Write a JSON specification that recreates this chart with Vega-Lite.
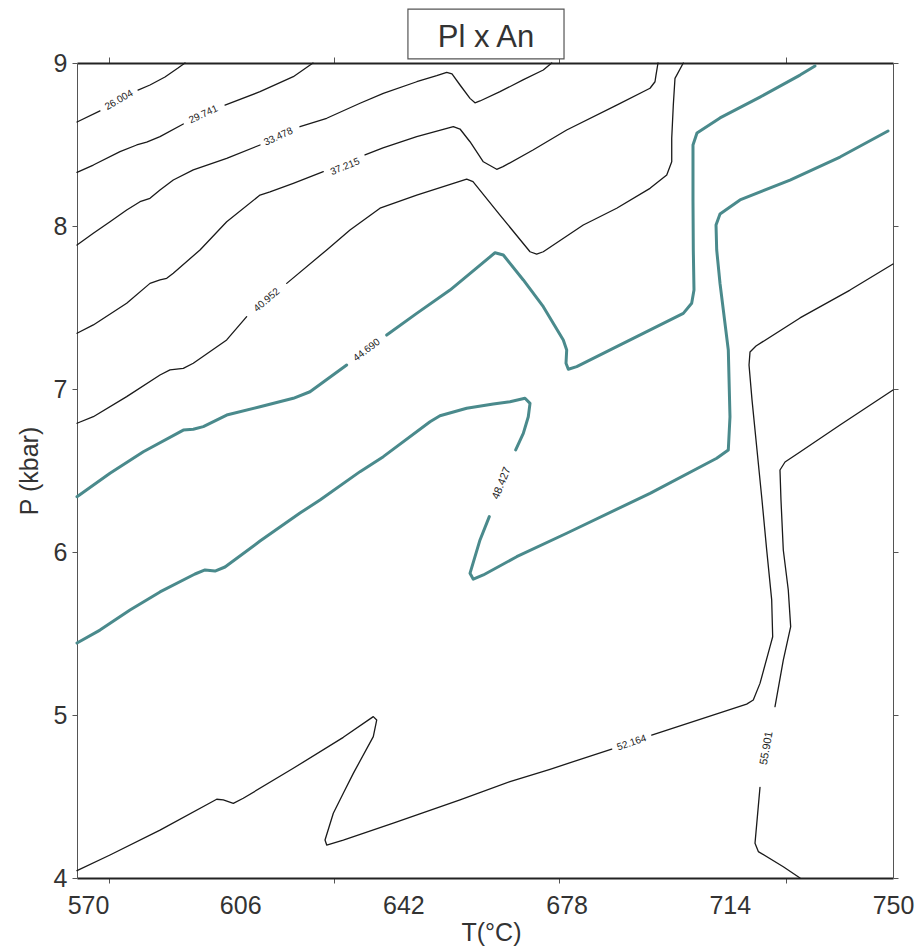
{
  "$schema": "https://vega.github.io/schema/vega-lite/v6.json",
  "width": 816,
  "height": 815,
  "autosize": "none",
  "padding": {"left": 77, "top": 63, "right": 29, "bottom": 70},
  "background": "white",
  "config": {
    "view": {"stroke": null},
    "font": "Liberation Sans",
    "axis": {"grid": false, "labelFont": "Liberation Sans", "titleFont": "Liberation Sans"}
  },
  "datasets": {
    "contours": [
      {"level": "26.004", "seg": "26.004a", "T": 570, "P": 8.638},
      {"level": "26.004", "seg": "26.004a", "T": 575.07, "P": 8.706},
      {"level": "26.004", "seg": "26.004b", "T": 583.46, "P": 8.834},
      {"level": "26.004", "seg": "26.004b", "T": 586.1, "P": 8.865},
      {"level": "26.004", "seg": "26.004b", "T": 589.41, "P": 8.914},
      {"level": "26.004", "seg": "26.004b", "T": 592.28, "P": 8.969},
      {"level": "26.004", "seg": "26.004b", "T": 593.82, "P": 9.0},

      {"level": "29.741", "seg": "29.741a", "T": 570, "P": 8.329},
      {"level": "29.741", "seg": "29.741a", "T": 573.6, "P": 8.374},
      {"level": "29.741", "seg": "29.741a", "T": 579.49, "P": 8.456},
      {"level": "29.741", "seg": "29.741a", "T": 583.17, "P": 8.497},
      {"level": "29.741", "seg": "29.741a", "T": 585.37, "P": 8.514},
      {"level": "29.741", "seg": "29.741a", "T": 588.31, "P": 8.548},
      {"level": "29.741", "seg": "29.741a", "T": 593.45, "P": 8.626},
      {"level": "29.741", "seg": "29.741b", "T": 602.65, "P": 8.742},
      {"level": "29.741", "seg": "29.741b", "T": 610.37, "P": 8.824},
      {"level": "29.741", "seg": "29.741b", "T": 617.71, "P": 8.916},
      {"level": "29.741", "seg": "29.741b", "T": 622.06, "P": 9.0},

      {"level": "33.478", "seg": "33.478a", "T": 570, "P": 7.883},
      {"level": "33.478", "seg": "33.478a", "T": 573.6, "P": 7.955},
      {"level": "33.478", "seg": "33.478a", "T": 577.28, "P": 8.026},
      {"level": "33.478", "seg": "33.478a", "T": 580.96, "P": 8.098},
      {"level": "33.478", "seg": "33.478a", "T": 583.9, "P": 8.149},
      {"level": "33.478", "seg": "33.478a", "T": 586.1, "P": 8.17},
      {"level": "33.478", "seg": "33.478a", "T": 588.31, "P": 8.221},
      {"level": "33.478", "seg": "33.478a", "T": 591.24, "P": 8.282},
      {"level": "33.478", "seg": "33.478a", "T": 595.65, "P": 8.344},
      {"level": "33.478", "seg": "33.478a", "T": 603.02, "P": 8.415},
      {"level": "33.478", "seg": "33.478a", "T": 610.37, "P": 8.497},
      {"level": "33.478", "seg": "33.478b", "T": 619.19, "P": 8.609},
      {"level": "33.478", "seg": "33.478b", "T": 625.08, "P": 8.661},
      {"level": "33.478", "seg": "33.478b", "T": 632.43, "P": 8.753},
      {"level": "33.478", "seg": "33.478b", "T": 637.57, "P": 8.814},
      {"level": "33.478", "seg": "33.478b", "T": 644.94, "P": 8.885},
      {"level": "33.478", "seg": "33.478b", "T": 649.35, "P": 8.922},
      {"level": "33.478", "seg": "33.478b", "T": 651.56, "P": 8.943},
      {"level": "33.478", "seg": "33.478b", "T": 652.72, "P": 8.933},
      {"level": "33.478", "seg": "33.478b", "T": 654.49, "P": 8.865},
      {"level": "33.478", "seg": "33.478b", "T": 656.69, "P": 8.783},
      {"level": "33.478", "seg": "33.478b", "T": 657.79, "P": 8.756},
      {"level": "33.478", "seg": "33.478b", "T": 658.9, "P": 8.767},
      {"level": "33.478", "seg": "33.478b", "T": 663.31, "P": 8.824},
      {"level": "33.478", "seg": "33.478b", "T": 668.38, "P": 8.896},
      {"level": "33.478", "seg": "33.478b", "T": 672.86, "P": 8.957},
      {"level": "33.478", "seg": "33.478b", "T": 674.71, "P": 9.0},

      {"level": "37.215", "seg": "37.215a", "T": 570, "P": 7.342},
      {"level": "37.215", "seg": "37.215a", "T": 573.6, "P": 7.393},
      {"level": "37.215", "seg": "37.215a", "T": 580.96, "P": 7.526},
      {"level": "37.215", "seg": "37.215a", "T": 586.1, "P": 7.648},
      {"level": "37.215", "seg": "37.215a", "T": 588.31, "P": 7.669},
      {"level": "37.215", "seg": "37.215a", "T": 589.79, "P": 7.679},
      {"level": "37.215", "seg": "37.215a", "T": 591.24, "P": 7.71},
      {"level": "37.215", "seg": "37.215a", "T": 597.13, "P": 7.853},
      {"level": "37.215", "seg": "37.215a", "T": 603.02, "P": 8.026},
      {"level": "37.215", "seg": "37.215a", "T": 610.37, "P": 8.19},
      {"level": "37.215", "seg": "37.215a", "T": 612.57, "P": 8.21},
      {"level": "37.215", "seg": "37.215a", "T": 617.71, "P": 8.262},
      {"level": "37.215", "seg": "37.215a", "T": 624.33, "P": 8.333},
      {"level": "37.215", "seg": "37.215b", "T": 633.53, "P": 8.436},
      {"level": "37.215", "seg": "37.215b", "T": 637.5, "P": 8.479},
      {"level": "37.215", "seg": "37.215b", "T": 644.94, "P": 8.548},
      {"level": "37.215", "seg": "37.215b", "T": 653.01, "P": 8.609},
      {"level": "37.215", "seg": "37.215b", "T": 654.49, "P": 8.595},
      {"level": "37.215", "seg": "37.215b", "T": 656.69, "P": 8.517},
      {"level": "37.215", "seg": "37.215b", "T": 659.63, "P": 8.394},
      {"level": "37.215", "seg": "37.215b", "T": 662.58, "P": 8.348},
      {"level": "37.215", "seg": "37.215b", "T": 663.97, "P": 8.364},
      {"level": "37.215", "seg": "37.215b", "T": 670.59, "P": 8.466},
      {"level": "37.215", "seg": "37.215b", "T": 678.02, "P": 8.589},
      {"level": "37.215", "seg": "37.215b", "T": 689.05, "P": 8.742},
      {"level": "37.215", "seg": "37.215b", "T": 696.4, "P": 8.845},
      {"level": "37.215", "seg": "37.215b", "T": 697.5, "P": 8.885},
      {"level": "37.215", "seg": "37.215b", "T": 697.72, "P": 8.926},
      {"level": "37.215", "seg": "37.215b", "T": 698.16, "P": 9.0},

      {"level": "40.952", "seg": "40.952a", "T": 570, "P": 6.79},
      {"level": "40.952", "seg": "40.952a", "T": 573.6, "P": 6.83},
      {"level": "40.952", "seg": "40.952a", "T": 580.96, "P": 6.953},
      {"level": "40.952", "seg": "40.952a", "T": 588.31, "P": 7.086},
      {"level": "40.952", "seg": "40.952a", "T": 590.51, "P": 7.117},
      {"level": "40.952", "seg": "40.952a", "T": 593.45, "P": 7.127},
      {"level": "40.952", "seg": "40.952a", "T": 595.65, "P": 7.158},
      {"level": "40.952", "seg": "40.952a", "T": 603.02, "P": 7.301},
      {"level": "40.952", "seg": "40.952a", "T": 607.43, "P": 7.444},
      {"level": "40.952", "seg": "40.952b", "T": 616.26, "P": 7.648},
      {"level": "40.952", "seg": "40.952b", "T": 625.08, "P": 7.853},
      {"level": "40.952", "seg": "40.952b", "T": 630.22, "P": 7.975},
      {"level": "40.952", "seg": "40.952b", "T": 636.84, "P": 8.109},
      {"level": "40.952", "seg": "40.952b", "T": 644.94, "P": 8.19},
      {"level": "40.952", "seg": "40.952b", "T": 655.96, "P": 8.288},
      {"level": "40.952", "seg": "40.952b", "T": 657.35, "P": 8.272},
      {"level": "40.952", "seg": "40.952b", "T": 663.31, "P": 8.067},
      {"level": "40.952", "seg": "40.952b", "T": 669.93, "P": 7.842},
      {"level": "40.952", "seg": "40.952b", "T": 671.4, "P": 7.828},
      {"level": "40.952", "seg": "40.952b", "T": 672.86, "P": 7.842},
      {"level": "40.952", "seg": "40.952b", "T": 681.68, "P": 8.006},
      {"level": "40.952", "seg": "40.952b", "T": 683.89, "P": 8.037},
      {"level": "40.952", "seg": "40.952b", "T": 689.05, "P": 8.109},
      {"level": "40.952", "seg": "40.952b", "T": 696.4, "P": 8.231},
      {"level": "40.952", "seg": "40.952b", "T": 700.09, "P": 8.313},
      {"level": "40.952", "seg": "40.952b", "T": 701.19, "P": 8.394},
      {"level": "40.952", "seg": "40.952b", "T": 701.19, "P": 8.538},
      {"level": "40.952", "seg": "40.952b", "T": 701.54, "P": 8.742},
      {"level": "40.952", "seg": "40.952b", "T": 701.91, "P": 8.906},
      {"level": "40.952", "seg": "40.952b", "T": 703.74, "P": 9.0},

      {"level": "44.690", "seg": "44.690a", "T": 570, "P": 6.339},
      {"level": "44.690", "seg": "44.690a", "T": 577.28, "P": 6.483},
      {"level": "44.690", "seg": "44.690a", "T": 584.63, "P": 6.615},
      {"level": "44.690", "seg": "44.690a", "T": 593.45, "P": 6.748},
      {"level": "44.690", "seg": "44.690a", "T": 595.65, "P": 6.753},
      {"level": "44.690", "seg": "44.690a", "T": 597.86, "P": 6.769},
      {"level": "44.690", "seg": "44.690a", "T": 603.02, "P": 6.84},
      {"level": "44.690", "seg": "44.690a", "T": 610.37, "P": 6.891},
      {"level": "44.690", "seg": "44.690a", "T": 617.71, "P": 6.943},
      {"level": "44.690", "seg": "44.690a", "T": 621.4, "P": 6.983},
      {"level": "44.690", "seg": "44.690a", "T": 629.49, "P": 7.147},
      {"level": "44.690", "seg": "44.690b", "T": 638.32, "P": 7.331},
      {"level": "44.690", "seg": "44.690b", "T": 644.94, "P": 7.464},
      {"level": "44.690", "seg": "44.690b", "T": 652.28, "P": 7.607},
      {"level": "44.690", "seg": "44.690b", "T": 662.21, "P": 7.836},
      {"level": "44.690", "seg": "44.690b", "T": 664.04, "P": 7.822},
      {"level": "44.690", "seg": "44.690b", "T": 668.45, "P": 7.669},
      {"level": "44.690", "seg": "44.690b", "T": 672.86, "P": 7.505},
      {"level": "44.690", "seg": "44.690b", "T": 677.27, "P": 7.301},
      {"level": "44.690", "seg": "44.690b", "T": 678.02, "P": 7.239},
      {"level": "44.690", "seg": "44.690b", "T": 677.87, "P": 7.158},
      {"level": "44.690", "seg": "44.690b", "T": 678.38, "P": 7.121},
      {"level": "44.690", "seg": "44.690b", "T": 680.23, "P": 7.137},
      {"level": "44.690", "seg": "44.690b", "T": 689.05, "P": 7.26},
      {"level": "44.690", "seg": "44.690b", "T": 703.74, "P": 7.464},
      {"level": "44.690", "seg": "44.690b", "T": 705.59, "P": 7.526},
      {"level": "44.690", "seg": "44.690b", "T": 706.1, "P": 7.607},
      {"level": "44.690", "seg": "44.690b", "T": 705.95, "P": 7.853},
      {"level": "44.690", "seg": "44.690b", "T": 705.88, "P": 8.16},
      {"level": "44.690", "seg": "44.690b", "T": 705.88, "P": 8.497},
      {"level": "44.690", "seg": "44.690b", "T": 706.76, "P": 8.571},
      {"level": "44.690", "seg": "44.690b", "T": 711.84, "P": 8.663},
      {"level": "44.690", "seg": "44.690b", "T": 720.66, "P": 8.791},
      {"level": "44.690", "seg": "44.690b", "T": 729.49, "P": 8.926},
      {"level": "44.690", "seg": "44.690b", "T": 732.79, "P": 8.982},

      {"level": "48.427", "seg": "48.427a", "T": 570, "P": 5.442},
      {"level": "48.427", "seg": "48.427a", "T": 575.07, "P": 5.521},
      {"level": "48.427", "seg": "48.427a", "T": 581.69, "P": 5.644},
      {"level": "48.427", "seg": "48.427a", "T": 588.31, "P": 5.755},
      {"level": "48.427", "seg": "48.427a", "T": 596.03, "P": 5.865},
      {"level": "48.427", "seg": "48.427a", "T": 598.24, "P": 5.89},
      {"level": "48.427", "seg": "48.427a", "T": 600.44, "P": 5.883},
      {"level": "48.427", "seg": "48.427a", "T": 602.65, "P": 5.908},
      {"level": "48.427", "seg": "48.427a", "T": 610.37, "P": 6.067},
      {"level": "48.427", "seg": "48.427a", "T": 619.19, "P": 6.239},
      {"level": "48.427", "seg": "48.427a", "T": 623.6, "P": 6.319},
      {"level": "48.427", "seg": "48.427a", "T": 632.43, "P": 6.493},
      {"level": "48.427", "seg": "48.427a", "T": 637.57, "P": 6.585},
      {"level": "48.427", "seg": "48.427a", "T": 647.87, "P": 6.799},
      {"level": "48.427", "seg": "48.427a", "T": 650.07, "P": 6.836},
      {"level": "48.427", "seg": "48.427a", "T": 655.96, "P": 6.882},
      {"level": "48.427", "seg": "48.427a", "T": 661.83, "P": 6.908},
      {"level": "48.427", "seg": "48.427a", "T": 665.51, "P": 6.922},
      {"level": "48.427", "seg": "48.427a", "T": 668.82, "P": 6.943},
      {"level": "48.427", "seg": "48.427a", "T": 669.93, "P": 6.912},
      {"level": "48.427", "seg": "48.427a", "T": 669.55, "P": 6.83},
      {"level": "48.427", "seg": "48.427a", "T": 668.45, "P": 6.728},
      {"level": "48.427", "seg": "48.427a", "T": 666.77, "P": 6.626},
      {"level": "48.427", "seg": "48.427b", "T": 660.95, "P": 6.217},
      {"level": "48.427", "seg": "48.427b", "T": 658.9, "P": 6.074},
      {"level": "48.427", "seg": "48.427b", "T": 656.69, "P": 5.869},
      {"level": "48.427", "seg": "48.427b", "T": 657.42, "P": 5.833},
      {"level": "48.427", "seg": "48.427b", "T": 659.63, "P": 5.859},
      {"level": "48.427", "seg": "48.427b", "T": 666.99, "P": 5.971},
      {"level": "48.427", "seg": "48.427b", "T": 678.02, "P": 6.115},
      {"level": "48.427", "seg": "48.427b", "T": 696.4, "P": 6.36},
      {"level": "48.427", "seg": "48.427b", "T": 711.11, "P": 6.575},
      {"level": "48.427", "seg": "48.427b", "T": 713.67, "P": 6.626},
      {"level": "48.427", "seg": "48.427b", "T": 714.04, "P": 6.83},
      {"level": "48.427", "seg": "48.427b", "T": 713.67, "P": 7.239},
      {"level": "48.427", "seg": "48.427b", "T": 711.84, "P": 7.648},
      {"level": "48.427", "seg": "48.427b", "T": 711.11, "P": 7.853},
      {"level": "48.427", "seg": "48.427b", "T": 710.96, "P": 8.006},
      {"level": "48.427", "seg": "48.427b", "T": 711.84, "P": 8.074},
      {"level": "48.427", "seg": "48.427b", "T": 716.25, "P": 8.16},
      {"level": "48.427", "seg": "48.427b", "T": 727.28, "P": 8.282},
      {"level": "48.427", "seg": "48.427b", "T": 738.31, "P": 8.423},
      {"level": "48.427", "seg": "48.427b", "T": 748.9, "P": 8.583},

      {"level": "52.164", "seg": "52.164a", "T": 570, "P": 4.045},
      {"level": "52.164", "seg": "52.164a", "T": 577.28, "P": 4.141},
      {"level": "52.164", "seg": "52.164a", "T": 588.31, "P": 4.294},
      {"level": "52.164", "seg": "52.164a", "T": 600.82, "P": 4.483},
      {"level": "52.164", "seg": "52.164a", "T": 602.27, "P": 4.479},
      {"level": "52.164", "seg": "52.164a", "T": 604.48, "P": 4.458},
      {"level": "52.164", "seg": "52.164a", "T": 606.68, "P": 4.489},
      {"level": "52.164", "seg": "52.164a", "T": 617.71, "P": 4.673},
      {"level": "52.164", "seg": "52.164a", "T": 628.74, "P": 4.863},
      {"level": "52.164", "seg": "52.164a", "T": 635.36, "P": 4.99},
      {"level": "52.164", "seg": "52.164a", "T": 636.11, "P": 4.969},
      {"level": "52.164", "seg": "52.164a", "T": 635.36, "P": 4.867},
      {"level": "52.164", "seg": "52.164a", "T": 630.95, "P": 4.642},
      {"level": "52.164", "seg": "52.164a", "T": 628.74, "P": 4.52},
      {"level": "52.164", "seg": "52.164a", "T": 626.54, "P": 4.397},
      {"level": "52.164", "seg": "52.164a", "T": 624.71, "P": 4.233},
      {"level": "52.164", "seg": "52.164a", "T": 625.08, "P": 4.202},
      {"level": "52.164", "seg": "52.164a", "T": 628.74, "P": 4.233},
      {"level": "52.164", "seg": "52.164a", "T": 639.77, "P": 4.336},
      {"level": "52.164", "seg": "52.164a", "T": 654.49, "P": 4.479},
      {"level": "52.164", "seg": "52.164a", "T": 665.51, "P": 4.591},
      {"level": "52.164", "seg": "52.164a", "T": 674.34, "P": 4.667},
      {"level": "52.164", "seg": "52.164a", "T": 687.95, "P": 4.791},
      {"level": "52.164", "seg": "52.164b", "T": 696.77, "P": 4.877},
      {"level": "52.164", "seg": "52.164b", "T": 717.72, "P": 5.067},
      {"level": "52.164", "seg": "52.164b", "T": 719.18, "P": 5.092},
      {"level": "52.164", "seg": "52.164b", "T": 720.66, "P": 5.194},
      {"level": "52.164", "seg": "52.164b", "T": 722.87, "P": 5.419},
      {"level": "52.164", "seg": "52.164b", "T": 723.46, "P": 5.48},
      {"level": "52.164", "seg": "52.164b", "T": 723.24, "P": 5.706},
      {"level": "52.164", "seg": "52.164b", "T": 722.14, "P": 6.012},
      {"level": "52.164", "seg": "52.164b", "T": 721.1, "P": 6.319},
      {"level": "52.164", "seg": "52.164b", "T": 720.0, "P": 6.626},
      {"level": "52.164", "seg": "52.164b", "T": 718.9, "P": 6.933},
      {"level": "52.164", "seg": "52.164b", "T": 718.24, "P": 7.147},
      {"level": "52.164", "seg": "52.164b", "T": 718.46, "P": 7.227},
      {"level": "52.164", "seg": "52.164b", "T": 719.78, "P": 7.264},
      {"level": "52.164", "seg": "52.164b", "T": 729.49, "P": 7.436},
      {"level": "52.164", "seg": "52.164b", "T": 740.52, "P": 7.607},
      {"level": "52.164", "seg": "52.164b", "T": 750, "P": 7.767},

      {"level": "55.901", "seg": "55.901a", "T": 750, "P": 6.994},
      {"level": "55.901", "seg": "55.901a", "T": 738.31, "P": 6.779},
      {"level": "55.901", "seg": "55.901a", "T": 729.49, "P": 6.613},
      {"level": "55.901", "seg": "55.901a", "T": 726.18, "P": 6.552},
      {"level": "55.901", "seg": "55.901a", "T": 725.07, "P": 6.503},
      {"level": "55.901", "seg": "55.901a", "T": 725.29, "P": 6.319},
      {"level": "55.901", "seg": "55.901a", "T": 725.8, "P": 6.012},
      {"level": "55.901", "seg": "55.901a", "T": 726.9, "P": 5.767},
      {"level": "55.901", "seg": "55.901a", "T": 727.43, "P": 5.542},
      {"level": "55.901", "seg": "55.901a", "T": 725.8, "P": 5.337},
      {"level": "55.901", "seg": "55.901a", "T": 723.97, "P": 5.051},
      {"level": "55.901", "seg": "55.901b", "T": 720.66, "P": 4.556},
      {"level": "55.901", "seg": "55.901b", "T": 719.56, "P": 4.213},
      {"level": "55.901", "seg": "55.901b", "T": 720.29, "P": 4.162},
      {"level": "55.901", "seg": "55.901b", "T": 725.8, "P": 4.069},
      {"level": "55.901", "seg": "55.901b", "T": 729.49, "P": 4.0}
    ],
    "labels": [
      {"level": "26.004", "T": 579.26, "P": 8.773},
      {"level": "29.741", "T": 597.86, "P": 8.685},
      {"level": "33.478", "T": 614.41, "P": 8.548},
      {"level": "37.215", "T": 629.12, "P": 8.364},
      {"level": "40.952", "T": 611.84, "P": 7.546},
      {"level": "44.690", "T": 633.9, "P": 7.239},
      {"level": "48.427", "T": 663.68, "P": 6.421},
      {"level": "52.164", "T": 692.36, "P": 4.83},
      {"level": "55.901", "T": 722.14, "P": 4.796}
    ]
  },
  "resolve": {"axis": {"x": "independent", "y": "independent"}},
  "layer": [
    {
      "data": {"name": "contours"},
      "transform": [{"filter": "datum.level !== '44.690' && datum.level !== '48.427'"}],
      "mark": {"type": "line", "color": "#1a1a1a", "strokeWidth": 1.3, "strokeCap": "round", "strokeJoin": "round"},
      "encoding": {
        "x": {
          "field": "T", "type": "quantitative",
          "scale": {"domain": [570, 750], "nice": false, "zero": false},
          "axis": {
            "orient": "bottom",
            "title": "T(°C)",
            "titleFontSize": 25, "titleFontWeight": "normal", "titleColor": "#333",
            "titleX": 414, "titleY": 54, "titleBaseline": "middle",
            "values": [570, 577.06, 606, 626.76, 642, 676.4, 678, 714, 726.4, 750],
            "labelExpr": "indexof([570, 606, 642, 678, 714, 750], datum.value) >= 0 ? format(datum.value, 'd') : ''",
            "labelFlush": false, "labelOverlap": false,
            "labelFontSize": 25, "labelColor": "#333", "labelPadding": 10,
            "labelOffset": {"condition": {"test": "datum.value === 570", "value": 11}, "value": 0},
            "tickSize": 5, "tickColor": "#555", "tickWidth": 1,
            "tickOpacity": {"condition": {"test": "indexof([570, 606, 642, 678, 714, 750], datum.value) >= 0", "value": 0}, "value": 1},
            "domainColor": "#222", "domainWidth": 2
          }
        },
        "y": {
          "field": "P", "type": "quantitative",
          "scale": {"domain": [4, 9], "nice": false, "zero": false},
          "axis": {
            "orient": "left",
            "title": "P (kbar)",
            "titleFontSize": 25, "titleFontWeight": "normal", "titleColor": "#333",
            "titleX": -48, "titleY": 407.5, "titleAngle": -90, "titleBaseline": "middle", "titleAlign": "center",
            "values": [4, 5, 6, 7, 8, 9],
            "labelFontSize": 25, "labelColor": "#333", "labelPadding": 5,
            "tickSize": 5, "tickColor": "#555",
            "domainColor": "#555", "domainWidth": 1
          }
        },
        "detail": {"field": "seg"},
        "order": {"value": null}
      }
    },
    {
      "data": {"name": "contours"},
      "transform": [{"filter": "datum.level === '44.690' || datum.level === '48.427'"}],
      "mark": {"type": "line", "color": "#4a8a8c", "strokeWidth": 3, "strokeCap": "round", "strokeJoin": "round"},
      "encoding": {
        "x": {"field": "T", "type": "quantitative", "scale": {"domain": [570, 750], "nice": false, "zero": false}, "axis": null},
        "y": {"field": "P", "type": "quantitative", "scale": {"domain": [4, 9], "nice": false, "zero": false}, "axis": null},
        "detail": {"field": "seg"},
        "order": {"value": null}
      }
    },
    {
      "data": {"name": "labels"},
      "encoding": {
        "x": {
          "field": "T", "type": "quantitative",
          "scale": {"domain": [570, 750], "nice": false, "zero": false},
          "axis": {
            "orient": "top", "title": null, "labels": false,
            "values": [577.06, 626.76, 676.4, 726.4],
            "tickSize": 6, "tickColor": "#555",
            "domainColor": "#222", "domainWidth": 2
          }
        },
        "y": {
          "field": "P", "type": "quantitative",
          "scale": {"domain": [4, 9], "nice": false, "zero": false},
          "axis": {
            "orient": "right", "title": null, "labels": false,
            "values": [4, 5, 6, 7, 8, 9],
            "tickSize": 5, "tickColor": "#555",
            "domainColor": "#555", "domainWidth": 1
          }
        },
        "text": {"field": "level", "type": "nominal"}
      },
      "layer": [
        {"transform": [{"filter": "datum.level === '26.004'"}],
         "mark": {"type": "text", "angle": -30, "font": "Liberation Sans", "fontSize": 10, "color": "#222", "align": "center", "baseline": "middle"}},
        {"transform": [{"filter": "datum.level === '29.741'"}],
         "mark": {"type": "text", "angle": -25, "font": "Liberation Sans", "fontSize": 10, "color": "#222", "align": "center", "baseline": "middle"}},
        {"transform": [{"filter": "datum.level === '33.478'"}],
         "mark": {"type": "text", "angle": -25, "font": "Liberation Sans", "fontSize": 10, "color": "#222", "align": "center", "baseline": "middle"}},
        {"transform": [{"filter": "datum.level === '37.215'"}],
         "mark": {"type": "text", "angle": -22, "font": "Liberation Sans", "fontSize": 10, "color": "#222", "align": "center", "baseline": "middle"}},
        {"transform": [{"filter": "datum.level === '40.952'"}],
         "mark": {"type": "text", "angle": -40, "font": "Liberation Sans", "fontSize": 10, "color": "#222", "align": "center", "baseline": "middle"}},
        {"transform": [{"filter": "datum.level === '44.690'"}],
         "mark": {"type": "text", "angle": -37, "font": "Liberation Sans", "fontSize": 10, "color": "#222", "align": "center", "baseline": "middle"}},
        {"transform": [{"filter": "datum.level === '48.427'"}],
         "mark": {"type": "text", "angle": -68, "font": "Liberation Sans", "fontSize": 11, "color": "#222", "align": "center", "baseline": "middle"}},
        {"transform": [{"filter": "datum.level === '52.164'"}],
         "mark": {"type": "text", "angle": -19, "font": "Liberation Sans", "fontSize": 10, "color": "#222", "align": "center", "baseline": "middle"}},
        {"transform": [{"filter": "datum.level === '55.901'"}],
         "mark": {"type": "text", "angle": -80, "font": "Liberation Sans", "fontSize": 11, "color": "#222", "align": "center", "baseline": "middle"}}
      ]
    },
    {
      "data": {"values": [{}]},
      "mark": {"type": "rect", "fill": "white", "stroke": "#555", "strokeWidth": 1.2},
      "encoding": {
        "x": {"datum": 643.0, "type": "quantitative", "scale": {"domain": [570, 750], "nice": false, "zero": false}, "axis": null},
        "x2": {"datum": 677.43},
        "y": {"datum": 9.331, "type": "quantitative", "scale": {"domain": [4, 9], "nice": false, "zero": false}, "axis": null},
        "y2": {"datum": 9.025}
      }
    },
    {
      "data": {"values": [{}]},
      "mark": {"type": "text", "text": "Pl x An", "font": "Liberation Sans", "fontSize": 31, "color": "#333", "align": "center", "baseline": "alphabetic"},
      "encoding": {
        "x": {"datum": 660.22, "type": "quantitative", "scale": {"domain": [570, 750], "nice": false, "zero": false}, "axis": null},
        "y": {"datum": 9.098, "type": "quantitative", "scale": {"domain": [4, 9], "nice": false, "zero": false}, "axis": null}
      }
    }
  ]
}
